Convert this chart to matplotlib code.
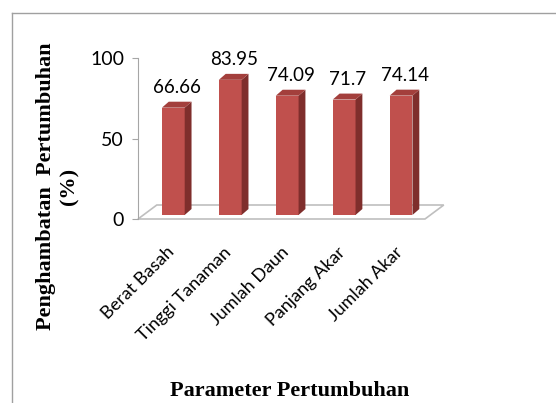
import matplotlib.pyplot as plt
from matplotlib.patches import Polygon
from matplotlib.lines import Line2D
from matplotlib.transforms import ScaledTranslation

# data
parameters = ['Berat Basah', 'Tinggi Tanaman', 'Jumlah Daun', 'Panjang Akar', 'Jumlah Akar']
inhibition = [66.66, 83.95, 74.09, 71.7, 74.14]

face = '#C0504D'
side = '#7F2E2C'
top_c = '#A33F3C'

fig = plt.figure(figsize=(5.56, 4.03), dpi=100)
ax = fig.add_axes([138 / 556, (403 - 219) / 403, 287 / 556, 161 / 403])
ax.set_xlim(-0.62, 4.42)
ax.set_ylim(0, 100)

# 3d-ish depth settings (in data units)
floor_dx, floor_dy = 0.33, 8.7
bar_dx, bar_dy = 0.12, 3.7
base = 2.5
w = 0.4

# floor
x0, x1 = ax.get_xlim()
floor = Polygon([(x0, 0), (x1, 0), (x1 + floor_dx, floor_dy), (x0 + floor_dx, floor_dy)],
                closed=True, facecolor='none', edgecolor='#BFBFBF', lw=1.2, clip_on=False)
ax.add_patch(floor)

for i, v in enumerate(inhibition):
    ax.bar(i, v, bottom=base, width=w, color=face, zorder=3)
    r = i + w / 2
    l = i - w / 2
    t = base + v
    ax.add_patch(Polygon([(r, base), (r + bar_dx, base + bar_dy), (r + bar_dx, t + bar_dy), (r, t)],
                         closed=True, facecolor=side, edgecolor='none', zorder=3, clip_on=False))
    ax.add_patch(Polygon([(l, t), (r, t), (r + bar_dx, t + bar_dy), (l + bar_dx, t + bar_dy)],
                         closed=True, facecolor=top_c, edgecolor='none', zorder=3, clip_on=False))
    ax.annotate(f'{v:g}', (i + bar_dx / 2, t + bar_dy), xytext=(0, 4), textcoords='offset points',
                ha='center', va='bottom', fontsize=13.5, family='Lato', clip_on=False)

for s in ['top', 'right', 'bottom']:
    ax.spines[s].set_visible(False)
ax.spines['left'].set_color('#A6A6A6')
ax.set_yticks([0, 50, 100])
ax.tick_params(axis='y', colors='#A6A6A6', labelcolor='black', length=4, labelsize=14, pad=6)
for lab in ax.get_yticklabels():
    lab.set_family('Lato')
ax.set_xticks(range(len(parameters)))
ax.set_xticklabels(parameters, rotation=45, ha='right', rotation_mode='anchor', fontsize=13, family='Lato')
ax.tick_params(axis='x', length=0, pad=18)
shift = ScaledTranslation(-7 / 100, 0, fig.dpi_scale_trans)
for lab in ax.get_xticklabels():
    lab.set_transform(lab.get_transform() + shift)

fig.text(58 / 556, 1 - 186 / 403, 'Penghambatan  Pertumbuhan\n(%)', rotation=90, ha='center', va='center',
         family='Liberation Serif', fontweight='bold', fontsize=16, linespacing=1.2, multialignment='center')
fig.text(290 / 556, 1 - 391 / 403, 'Parameter Pertumbuhan', ha='center', va='center',
         family='Liberation Serif', fontweight='bold', fontsize=16)

# outer frame
fig.add_artist(Line2D([12 / 556, 12 / 556], [0, 1 - 13 / 403], transform=fig.transFigure, color='#A0A0A0', lw=1))
fig.add_artist(Line2D([12 / 556, 1], [1 - 13 / 403, 1 - 13 / 403], transform=fig.transFigure, color='#A0A0A0', lw=1))

fig.savefig('out.png', dpi=100)
